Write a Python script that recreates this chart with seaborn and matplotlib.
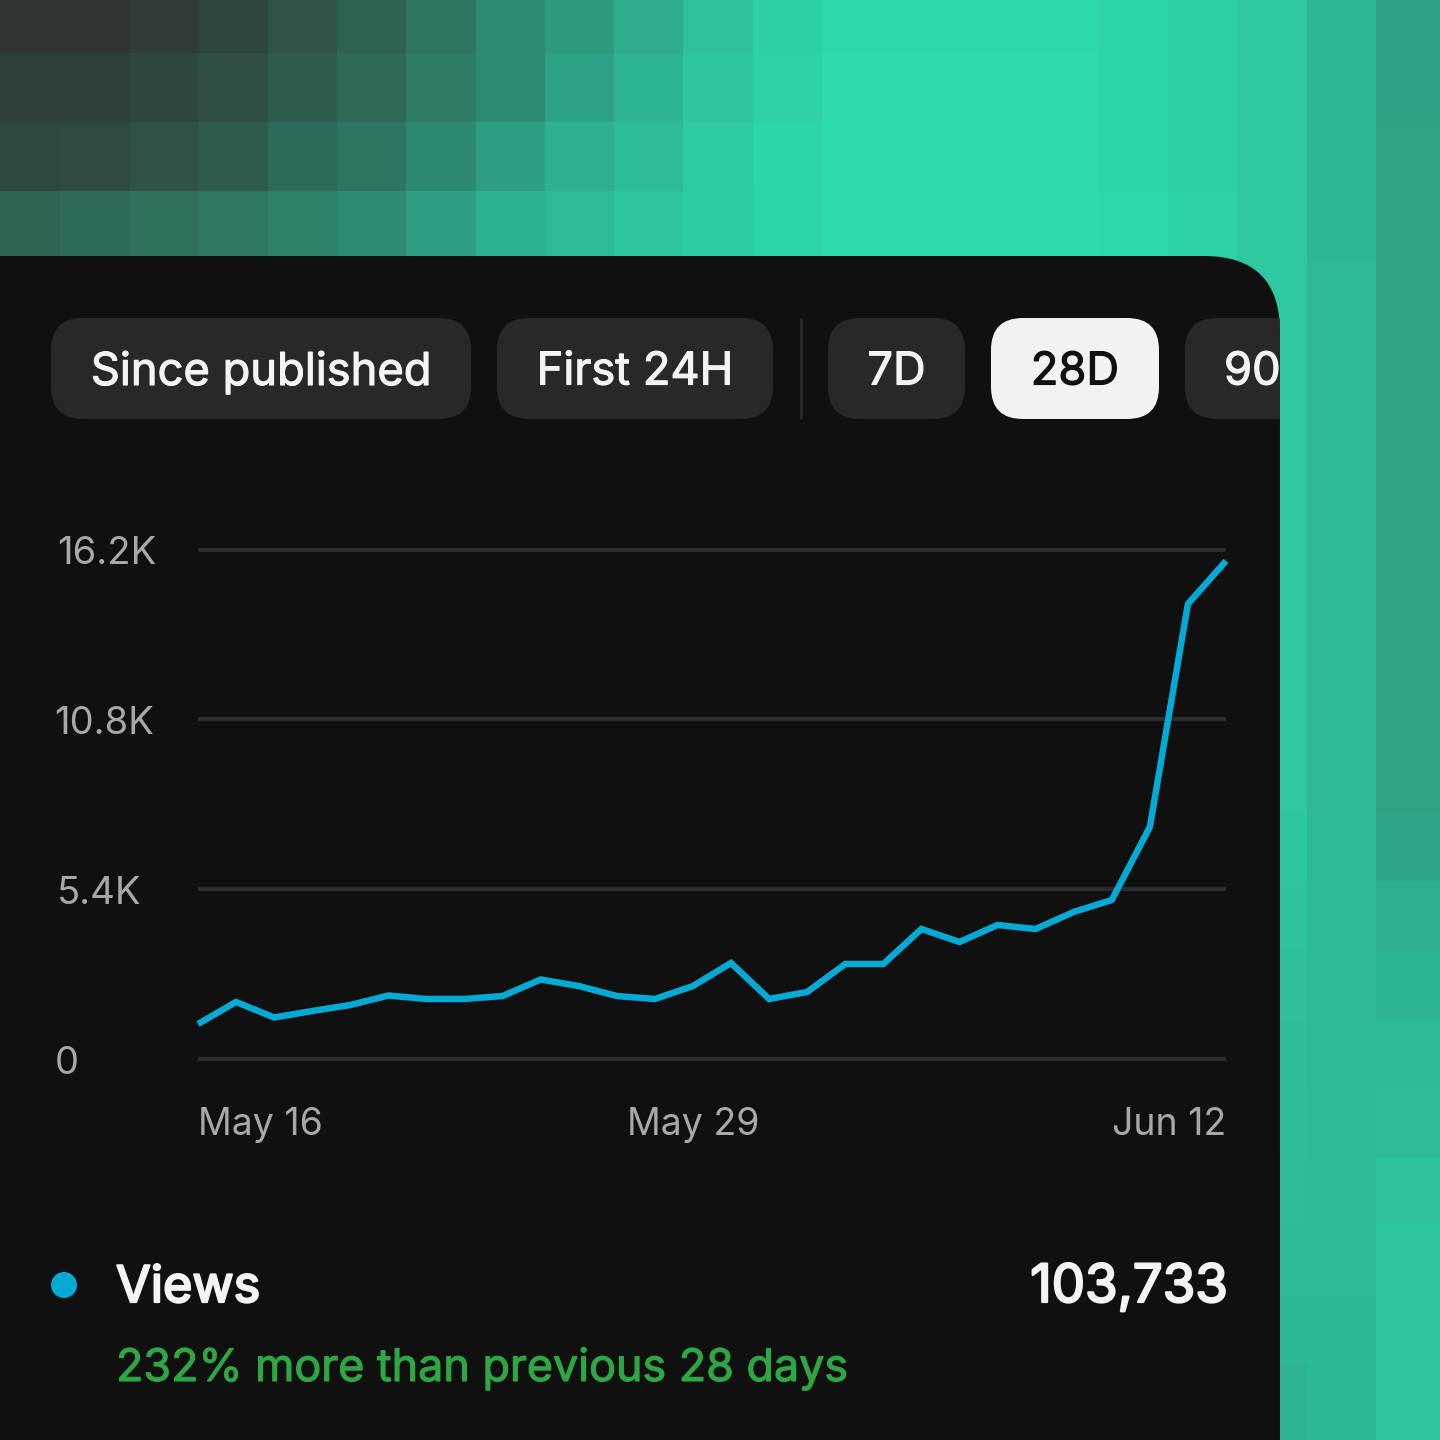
"""Views over 28 days card on a pixelated teal background."""
import numpy as np
import pandas as pd
import matplotlib
matplotlib.use('Agg')
import matplotlib.pyplot as plt
import matplotlib.patheffects as pe
import seaborn as sns
from matplotlib.colors import LinearSegmentedColormap
from matplotlib.patches import FancyBboxPatch, Circle
from matplotlib.transforms import ScaledTranslation

sns.set_theme(style="white")
plt.rcParams['font.family'] = ['Inter', 'Roboto', 'DejaVu Sans']

# --- data ---
days = list(range(28))
views = [1113, 1813, 1320, 1526, 1717, 2019, 1908, 1908, 2003, 2528,
         2321, 2003, 1908, 2321, 3053, 1908, 2131, 3021, 3021, 4134,
         3721, 4261, 4134, 4675, 5056, 7378, 14469, 15836]
y_ticks = [0, 5400, 10800, 16200]
y_labels = ['0', '5.4K', '10.8K', '16.2K']
x_ticks = [0, 13, 27]
x_labels = ['May 16', 'May 29', 'Jun 12']
x_aligns = ['left', 'center', 'right']

pills = ['Since published', 'First 24H', '7D', '28D', '90D']
pill_left = [51, 497, 828, 991, 1185]
pill_right = [471, 773, 965, 1159, 1330]
active_pill = '28D'

total_label = '103,733'
series_label = 'Views'
delta_label = '232% more than previous 28 days'

# brightness of the background tiles, 0 = dark grey, 100 = full teal
tile_row0 = [0, 0, 4, 10, 19, 27, 39, 52, 62, 73, 85, 93, 98, 98, 98, 98, 96, 93, 88, 78, 66]
tile_row1 = [6, 7, 10, 16, 24, 31, 43, 52, 66, 76, 87, 94, 99, 99, 99, 99, 97, 93, 88, 78, 66]
tile_row2 = [12, 13, 17, 23, 33, 39, 51, 64, 74, 81, 90, 96, 99, 100, 100, 99, 97, 93, 88, 78, 67]
tile_row3 = [29, 33, 35, 40, 46, 52, 63, 75, 81, 87, 92, 96, 100, 100, 100, 100, 98, 94, 88, 78, 67]
# the three tile columns right of the card, rows below the top four
tile_col18 = [88, 88, 88, 88, 88, 88, 88, 88, 87, 86, 84, 83, 82, 81, 80, 79, 76, 76]
tile_col19 = [80, 80, 80, 80, 80, 80, 80, 80, 80, 80, 80, 80, 80, 80, 80, 79, 79, 79]
tile_col20 = [67, 67, 67, 67, 67, 67, 67, 67, 69, 74, 77, 80, 82, 86, 87, 87, 87, 87]

CARD = '#101010'
PILL = '#282828'
ACTIVE = '#f2f2f2'
GRID = '#2c2c2c'
LINE = '#03aad3'
MUTED = '#a8a8a8'
WHITE = '#f4f4f4'
GREEN = '#2ea643'
PX = 72 / 100  # points per pixel at dpi=100

fig = plt.figure(figsize=(14.4, 14.4), dpi=100, facecolor=CARD)


def px_axes(left, top, right, bottom, **kw):
    return fig.add_axes([left / 1440, 1 - bottom / 1440,
                         (right - left) / 1440, (bottom - top) / 1440], **kw)


def heavier(color, width):
    # Inter only ships the regular cut here, thicken it with a stroke
    return [pe.withStroke(linewidth=width, foreground=color)]


# --- pixelated background ---
tiles = np.full((22, 21), 90.0)
tiles[0], tiles[1], tiles[2], tiles[3] = tile_row0, tile_row1, tile_row2, tile_row3
tiles[4:, 18] = tile_col18
tiles[4:, 19] = tile_col19
tiles[4:, 20] = tile_col20
ramp = LinearSegmentedColormap.from_list('tiles', ['#2f3533', '#2ddaae'])
ax_bg = px_axes(-9, -16, 1445, 1502, zorder=0)
sns.heatmap(tiles, ax=ax_bg, cmap=ramp, vmin=0, vmax=100, cbar=False,
            xticklabels=False, yticklabels=False, linewidths=0)

# --- card and chrome, drawn in pixel coordinates ---
ax_ui = px_axes(0, 0, 1440, 1440, zorder=1)
ax_ui.set_xlim(0, 1440)
ax_ui.set_ylim(1440, 0)
ax_ui.axis('off')
ax_ui.patch.set_alpha(0)

card = FancyBboxPatch((-100, 256), 1380, 1300, boxstyle='round,pad=0,rounding_size=76',
                      fc=CARD, ec='none')
ax_ui.add_patch(card)

for name, x0, x1 in zip(pills, pill_left, pill_right):
    is_active = name == active_pill
    pill = FancyBboxPatch((x0, 318), x1 - x0, 101, boxstyle='round,pad=0,rounding_size=32',
                          fc=ACTIVE if is_active else PILL, ec='none')
    ax_ui.add_patch(pill)
    pill.set_clip_path(card)
    text_color = '#0f1011' if is_active else WHITE
    label = ax_ui.text((x0 + x1) / 2 if name != '90D' else 1224, 368, name,
                       ha='center' if name != '90D' else 'left', va='center_baseline',
                       fontsize=32.6, color=text_color, clip_on=True,
                       path_effects=heavier(text_color, 0.8))
    label.set_clip_path(card)

ax_ui.plot([801, 801], [318, 419], color=PILL, lw=3 * PX, solid_capstyle='butt')

ax_ui.add_patch(Circle((64, 1285), 13, fc=LINE, ec='none'))
ax_ui.text(116, 1302, series_label, fontsize=36.3, color=WHITE, va='baseline',
           path_effects=heavier(WHITE, 1.6))
ax_ui.text(1228, 1302, total_label, fontsize=38, color=WHITE, va='baseline', ha='right',
           path_effects=heavier(WHITE, 1.6))
ax_ui.text(116, 1381, delta_label, fontsize=32.3, color=GREEN, va='baseline',
           path_effects=heavier(GREEN, 0.8))

# --- line chart ---
df = pd.DataFrame({'day': days, 'views': views})
ax = px_axes(198, 549.5, 1226, 1059, zorder=2)
ax.patch.set_alpha(0)
sns.lineplot(data=df, x='day', y='views', ax=ax, color=LINE, lw=6.5 * PX, errorbar=None,
             zorder=3, clip_on=False, solid_capstyle='butt', solid_joinstyle='miter')
ax.set_xlim(0, 27)
ax.set_ylim(0, 16200)
ax.set_xlabel('')
ax.set_ylabel('')
sns.despine(ax=ax, left=True, bottom=True)

ax.set_yticks(y_ticks)
ax.set_yticklabels(y_labels, fontsize=27.5, color=MUTED, ha='left')
ax.tick_params(axis='y', length=0, pad=141 * PX)
ax.set_xticks(x_ticks)
ax.set_xticklabels(x_labels, fontsize=27, color=MUTED)
ax.tick_params(axis='x', length=0, pad=48 * PX)
for lab, align in zip(ax.get_xticklabels(), x_aligns):
    lab.set_ha(align)

# the labels do not share one left edge in the reference
label_dx = [-2, 0, -3, 0]
for lab, dx in zip(ax.get_yticklabels(), label_dx):
    lab.set_transform(lab.get_transform()
                      + ScaledTranslation(dx / 100, -0.5 / 100, fig.dpi_scale_trans))

ax.grid(axis='y', color=GRID, lw=4 * PX)
ax.grid(axis='x', visible=False)
for gl in ax.get_ygridlines():
    gl.set_clip_on(False)
    gl.set_solid_capstyle('butt')

fig.savefig('out.png', dpi=100)
